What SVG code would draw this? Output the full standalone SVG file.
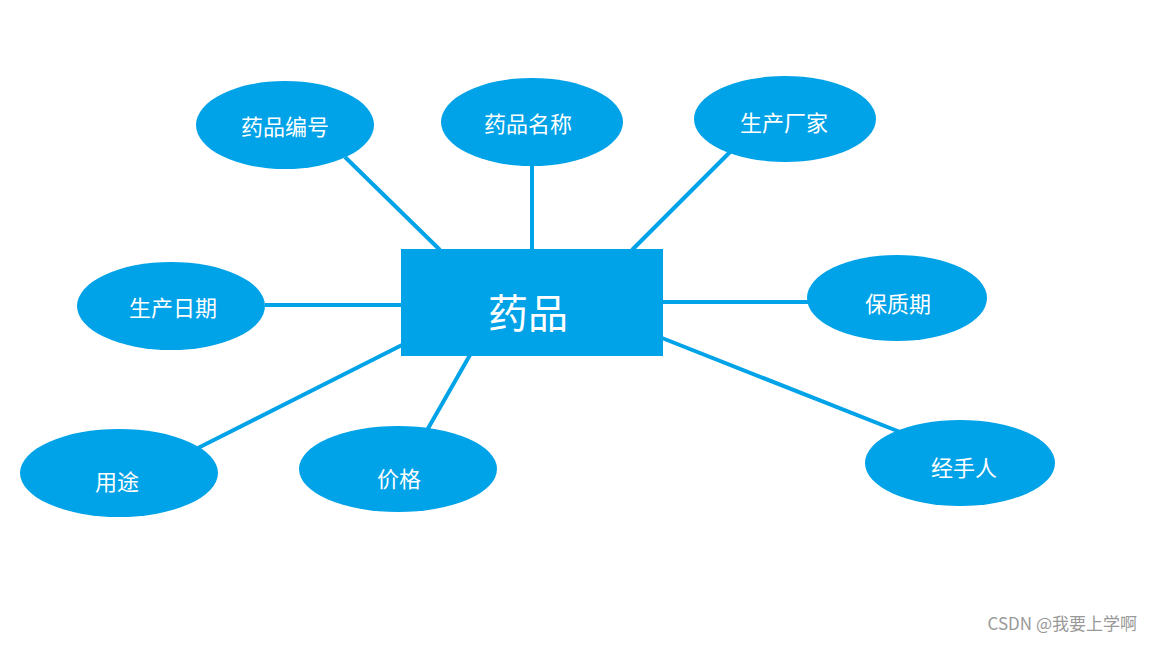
<svg xmlns="http://www.w3.org/2000/svg" width="1152" height="648" viewBox="0 0 1152 648">
<style>
.n{fill:#00a2e8}
.t{fill:#fff;font-family:"Noto Sans CJK SC","Noto Sans",sans-serif;font-size:22px;text-anchor:middle;dominant-baseline:central}
.c line{stroke:#00a2e8;stroke-width:4}
</style>
<rect width="1152" height="648" fill="#fff"/>
<g class="c">
<line x1="345" y1="157" x2="440" y2="250"/>
<line x1="532" y1="165" x2="532" y2="250"/>
<line x1="730" y1="152" x2="632" y2="250"/>
<line x1="265" y1="305" x2="402" y2="305"/>
<line x1="662" y1="302" x2="808" y2="302"/>
<line x1="198" y1="448" x2="402" y2="345"/>
<line x1="426" y1="432" x2="470" y2="355"/>
<line x1="662" y1="338" x2="900" y2="432"/>
</g>
<g id="center"><rect class="n" x="401" y="249" width="262" height="107"/><text class="t" x="528" y="311" style="font-size:40px">药品</text></g>
<g id="n1"><ellipse class="n" cx="285" cy="125" rx="89" ry="44"/><text class="t" x="285" y="125">药品编号</text></g>
<g id="n2"><ellipse class="n" cx="532" cy="122" rx="91" ry="44"/><text class="t" x="528" y="122">药品名称</text></g>
<g id="n3"><ellipse class="n" cx="785" cy="119" rx="91" ry="43"/><text class="t" x="784" y="121">生产厂家</text></g>
<g id="n4"><ellipse class="n" cx="171" cy="306" rx="94" ry="44"/><text class="t" x="173" y="306">生产日期</text></g>
<g id="n5"><ellipse class="n" cx="897" cy="298" rx="90" ry="43"/><text class="t" x="898" y="302">保质期</text></g>
<g id="n6"><ellipse class="n" cx="119" cy="473" rx="99" ry="44"/><text class="t" x="117" y="480">用途</text></g>
<g id="n7"><ellipse class="n" cx="398" cy="469" rx="99" ry="43"/><text class="t" x="399" y="477">价格</text></g>
<g id="n8"><ellipse class="n" cx="960" cy="463" rx="95" ry="43"/><text class="t" x="964" y="466">经手人</text></g>
<text x="1137" y="630" style="font-family:'Noto Sans CJK SC',sans-serif;font-size:17px;fill:#999;text-anchor:end">CSDN @我要上学啊</text>
</svg>
